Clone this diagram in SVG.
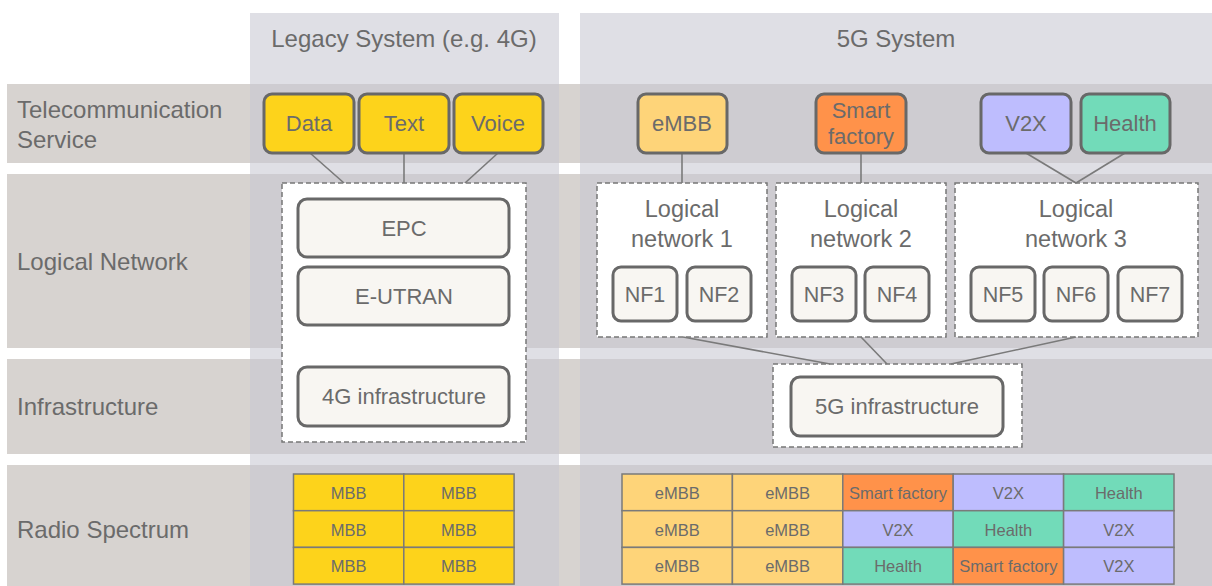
<svg xmlns="http://www.w3.org/2000/svg" width="1212" height="586" viewBox="0 0 1212 586">
  <style>
    text { font-family: "Liberation Sans", Arial, Helvetica, sans-serif; fill: #6b6b6b; }
    .band { fill: #d7d3d0; }
    .col { fill: #c8c7d2; fill-opacity: 0.575; }
    .head { font-size: 24px; text-anchor: middle; }
    .lab { font-size: 24px; }
    .t { font-size: 22px; text-anchor: middle; }
    .nf { font-size: 21.5px; text-anchor: middle; }
    .ln { font-size: 23.5px; text-anchor: middle; }
    .s { font-size: 16.5px; text-anchor: middle; }
    .svc { stroke: #686868; stroke-width: 3; }
    .blk { fill: #f8f6f2; stroke: #686868; stroke-width: 3; }
    .dash { fill: #ffffff; stroke: #777777; stroke-width: 1.5; stroke-dasharray: 5 3; }
    .cell { stroke: #7a7a7a; stroke-width: 1.5; }
    .link { stroke: #7a7a7a; stroke-width: 1.6; fill: none; }
    .yel { fill: #fdd31b; }
    .embb { fill: #fed479; }
    .fac { fill: #ff924a; }
    .v2x { fill: #bebdfe; }
    .hea { fill: #72dbb9; }
  </style>

  <!-- background: layer bands and system columns -->
  <rect x="0" y="0" width="1212" height="586" fill="#ffffff"/>
  <g id="bands">
    <rect class="band" x="7" y="84" width="1205" height="79"/>
    <rect class="band" x="7" y="174" width="1205" height="174"/>
    <rect class="band" x="7" y="359" width="1205" height="95"/>
    <rect class="band" x="7" y="465" width="1205" height="121"/>
  </g>
  <g id="columns">
    <rect class="col" x="250" y="13" width="309" height="573"/>
    <rect class="col" x="580" y="13" width="632" height="573"/>
    <text class="head" x="404" y="47">Legacy System (e.g. 4G)</text>
    <text class="head" x="896" y="47">5G System</text>
  </g>

  <!-- layer labels -->
  <g id="layer-labels">
    <text class="lab" x="17" y="118">Telecommunication</text>
    <text class="lab" x="17" y="148">Service</text>
    <text class="lab" x="17" y="270">Logical Network</text>
    <text class="lab" x="17" y="415">Infrastructure</text>
    <text class="lab" x="17" y="538">Radio Spectrum</text>
  </g>

  <!-- dashed containers -->
  <g id="legacy-network">
    <rect class="dash" x="282" y="183" width="244" height="259"/>
  </g>
  <g id="logical-network-1">
    <rect class="dash" x="597" y="183" width="170" height="154"/>
    <text class="ln" x="682" y="217">Logical</text>
    <text class="ln" x="682" y="247">network 1</text>
  </g>
  <g id="logical-network-2">
    <rect class="dash" x="776" y="183" width="170" height="154"/>
    <text class="ln" x="861" y="217">Logical</text>
    <text class="ln" x="861" y="247">network 2</text>
  </g>
  <g id="logical-network-3">
    <rect class="dash" x="955" y="183" width="243" height="154"/>
    <text class="ln" x="1076" y="217">Logical</text>
    <text class="ln" x="1076" y="247">network 3</text>
  </g>
  <g id="infra-5g-container">
    <rect class="dash" x="773" y="364" width="249" height="83"/>
  </g>

  <!-- connectors -->
  <g id="connectors">
    <line class="link" x1="310" y1="153" x2="344" y2="183"/>
    <line class="link" x1="404" y1="153" x2="404" y2="183"/>
    <line class="link" x1="498" y1="153" x2="465" y2="183"/>
    <line class="link" x1="682" y1="153" x2="682" y2="183"/>
    <line class="link" x1="861" y1="153" x2="861" y2="183"/>
    <line class="link" x1="1026" y1="153" x2="1076" y2="183"/>
    <line class="link" x1="1125" y1="153" x2="1076" y2="183"/>
    <line class="link" x1="683" y1="337" x2="830" y2="364"/>
    <line class="link" x1="861" y1="337" x2="887" y2="364"/>
    <line class="link" x1="1076" y1="337" x2="951" y2="364"/>
  </g>

  <!-- telecommunication services -->
  <g id="svc-data"><rect class="svc yel" x="264" y="94" width="90" height="59" rx="8"/><text class="t" x="309" y="131">Data</text></g>
  <g id="svc-text"><rect class="svc yel" x="359" y="94" width="90" height="59" rx="8"/><text class="t" x="404" y="131">Text</text></g>
  <g id="svc-voice"><rect class="svc yel" x="454" y="94" width="89" height="59" rx="8"/><text class="t" x="498" y="131">Voice</text></g>
  <g id="svc-embb"><rect class="svc embb" x="638" y="94" width="89" height="59" rx="8"/><text class="t" x="682" y="131">eMBB</text></g>
  <g id="svc-factory"><rect class="svc fac" x="816" y="94" width="90" height="59" rx="8"/><text class="t" x="861" y="118">Smart</text><text class="t" x="861" y="144">factory</text></g>
  <g id="svc-v2x"><rect class="svc v2x" x="981" y="94" width="90" height="59" rx="8"/><text class="t" x="1026" y="131">V2X</text></g>
  <g id="svc-health"><rect class="svc hea" x="1081" y="94" width="89" height="59" rx="8"/><text class="t" x="1125" y="131">Health</text></g>

  <!-- legacy network blocks -->
  <g id="epc"><rect class="blk" x="298" y="199" width="211" height="58" rx="9"/><text class="t" x="404" y="236">EPC</text></g>
  <g id="e-utran"><rect class="blk" x="298" y="267" width="211" height="58" rx="9"/><text class="t" x="404" y="304">E-UTRAN</text></g>
  <g id="infra-4g"><rect class="blk" x="298" y="367" width="211" height="59" rx="9"/><text class="t" x="404" y="404">4G infrastructure</text></g>

  <!-- network functions -->
  <g id="nf1"><rect class="blk" x="613" y="267" width="64" height="54" rx="8"/><text class="nf" x="645" y="302">NF1</text></g>
  <g id="nf2"><rect class="blk" x="687" y="267" width="64" height="54" rx="8"/><text class="nf" x="719" y="302">NF2</text></g>
  <g id="nf3"><rect class="blk" x="792" y="267" width="64" height="54" rx="8"/><text class="nf" x="824" y="302">NF3</text></g>
  <g id="nf4"><rect class="blk" x="865" y="267" width="64" height="54" rx="8"/><text class="nf" x="897" y="302">NF4</text></g>
  <g id="nf5"><rect class="blk" x="971" y="267" width="64" height="54" rx="8"/><text class="nf" x="1003" y="302">NF5</text></g>
  <g id="nf6"><rect class="blk" x="1044" y="267" width="64" height="54" rx="8"/><text class="nf" x="1076" y="302">NF6</text></g>
  <g id="nf7"><rect class="blk" x="1118" y="267" width="64" height="54" rx="8"/><text class="nf" x="1150" y="302">NF7</text></g>

  <g id="infra-5g"><rect class="blk" x="791" y="377" width="212" height="59" rx="9"/><text class="t" x="897" y="414">5G infrastructure</text></g>

  <!-- legacy spectrum grid -->
  <g id="spectrum-4g">
    <rect class="cell yel" x="293.5" y="474" width="110.3" height="36.7"/>
    <rect class="cell yel" x="403.8" y="474" width="110.3" height="36.7"/>
    <rect class="cell yel" x="293.5" y="510.7" width="110.3" height="36.7"/>
    <rect class="cell yel" x="403.8" y="510.7" width="110.3" height="36.7"/>
    <rect class="cell yel" x="293.5" y="547.4" width="110.3" height="36.7"/>
    <rect class="cell yel" x="403.8" y="547.4" width="110.3" height="36.7"/>
    <text class="s" x="348.7" y="499">MBB</text>
    <text class="s" x="459" y="499">MBB</text>
    <text class="s" x="348.7" y="535.5">MBB</text>
    <text class="s" x="459" y="535.5">MBB</text>
    <text class="s" x="348.7" y="572">MBB</text>
    <text class="s" x="459" y="572">MBB</text>
  </g>

  <!-- 5G spectrum grid -->
  <g id="spectrum-5g">
    <rect class="cell embb" x="622" y="474" width="110.4" height="36.7"/>
    <rect class="cell embb" x="732.4" y="474" width="110.4" height="36.7"/>
    <rect class="cell fac" x="842.8" y="474" width="110.4" height="36.7"/>
    <rect class="cell v2x" x="953.2" y="474" width="110.4" height="36.7"/>
    <rect class="cell hea" x="1063.6" y="474" width="110.4" height="36.7"/>

    <rect class="cell embb" x="622" y="510.7" width="110.4" height="36.7"/>
    <rect class="cell embb" x="732.4" y="510.7" width="110.4" height="36.7"/>
    <rect class="cell v2x" x="842.8" y="510.7" width="110.4" height="36.7"/>
    <rect class="cell hea" x="953.2" y="510.7" width="110.4" height="36.7"/>
    <rect class="cell v2x" x="1063.6" y="510.7" width="110.4" height="36.7"/>

    <rect class="cell embb" x="622" y="547.4" width="110.4" height="36.7"/>
    <rect class="cell embb" x="732.4" y="547.4" width="110.4" height="36.7"/>
    <rect class="cell hea" x="842.8" y="547.4" width="110.4" height="36.7"/>
    <rect class="cell fac" x="953.2" y="547.4" width="110.4" height="36.7"/>
    <rect class="cell v2x" x="1063.6" y="547.4" width="110.4" height="36.7"/>

    <text class="s" x="677.2" y="499">eMBB</text>
    <text class="s" x="787.6" y="499">eMBB</text>
    <text class="s" x="898" y="499">Smart factory</text>
    <text class="s" x="1008.4" y="499">V2X</text>
    <text class="s" x="1118.8" y="499">Health</text>

    <text class="s" x="677.2" y="535.5">eMBB</text>
    <text class="s" x="787.6" y="535.5">eMBB</text>
    <text class="s" x="898" y="535.5">V2X</text>
    <text class="s" x="1008.4" y="535.5">Health</text>
    <text class="s" x="1118.8" y="535.5">V2X</text>

    <text class="s" x="677.2" y="572">eMBB</text>
    <text class="s" x="787.6" y="572">eMBB</text>
    <text class="s" x="898" y="572">Health</text>
    <text class="s" x="1008.4" y="572">Smart factory</text>
    <text class="s" x="1118.8" y="572">V2X</text>
  </g>
</svg>
